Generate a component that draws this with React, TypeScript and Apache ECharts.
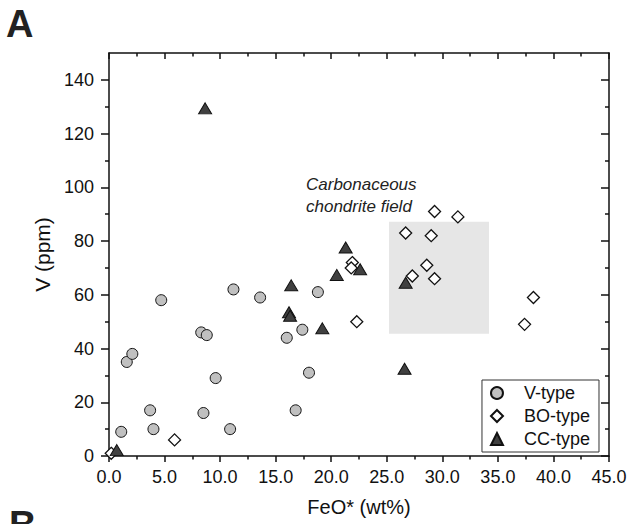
import React, { useEffect, useRef } from "react";
import * as echarts from "echarts";

const FONT = "'Liberation Sans', Arial, sans-serif";

// V-type (FeO* wt%, V ppm)
const vTypeFeO = [1.1, 1.6, 2.1, 4.7, 3.7, 4.0, 8.3, 8.8, 8.5, 9.6, 11.2, 10.9, 13.6, 16.0, 17.4, 16.8, 18.0, 18.8];
const vTypeV = [9, 35, 38, 58, 17, 10, 46, 45, 16, 29, 62, 10, 59, 44, 47, 17, 31, 61];

// BO-type
const boTypeFeO = [0.2, 5.9, 22.3, 21.9, 21.8, 29.3, 31.4, 26.7, 29.0, 28.6, 27.3, 29.3, 38.2, 37.4];
const boTypeV = [1, 6, 50, 72, 70, 91, 89, 83, 82, 71, 67, 66, 59, 49];

// CC-type
const ccTypeFeO = [0.7, 8.65, 21.3, 22.6, 20.5, 16.4, 16.2, 16.3, 19.2, 26.7, 26.6];
const ccTypeV = [2.2, 129.4, 77.6, 69.5, 67.4, 63.5, 53.5, 52.2, 47.5, 64.5, 32.5];

// Carbonaceous chondrite field box
const fieldFeO = [25.2, 34.2];
const fieldV = [45.5, 87.2];

const xTicks = [0, 5, 10, 15, 20, 25, 30, 35, 40, 45];
const yMajorTicks = [0, 20, 40, 60, 80, 100, 120, 140];
const yMinorTicks = [10, 30, 50, 70, 90, 110, 130];

const legendNames = ["V-type", "BO-type", "CC-type"];

const zip = (xs: number[], ys: number[]) => xs.map((x, i) => [x, ys[i]]);

export default function App() {
  const ref = useRef<HTMLDivElement>(null);
  useEffect(() => {
    if (!ref.current) return;
    const chart = echarts.init(ref.current, undefined, { renderer: "svg" });
    const lineStyle = { color: "#111", width: 1.5 };
    const baseX = {
      type: "value" as const,
      min: xTicks[0],
      max: xTicks[xTicks.length - 1],
      interval: 5,
      splitLine: { show: false },
      axisLine: { show: true, onZero: false, lineStyle },
    };
    const baseY = {
      type: "value" as const,
      min: 0,
      max: 150,
      interval: 10,
      splitLine: { show: false },
    };
    chart.setOption({
      animation: false,
      textStyle: { fontFamily: FONT },
      grid: { left: 109, right: 22, top: 53, bottom: 68, containLabel: false },
      xAxis: [
        {
          ...baseX,
          position: "bottom",
          name: "FeO* (wt%)",
          nameLocation: "middle",
          nameGap: 41,
          nameTextStyle: { fontSize: 20, color: "#111", fontFamily: FONT },
          axisTick: { show: true, inside: false, length: 6, lineStyle },
          minorTick: { show: true, splitNumber: 2, length: 3.5, lineStyle },
          axisLabel: {
            show: true,
            margin: 12,
            fontSize: 18,
            color: "#111",
            fontFamily: FONT,
            formatter: (v: number) => v.toFixed(1),
          },
        },
        {
          ...baseX,
          position: "top",
          axisTick: { show: true, inside: true, length: 6, lineStyle },
          minorTick: { show: true, splitNumber: 2, length: 3.5, lineStyle },
          axisLabel: { show: false },
        },
      ],
      yAxis: [
        {
          ...baseY,
          position: "left",
          name: "V (ppm)",
          nameLocation: "middle",
          nameGap: 52,
          nameTextStyle: { fontSize: 21, color: "#111", fontFamily: FONT },
          axisLine: { show: true, lineStyle },
          axisTick: { show: true, inside: false, length: 8, lineStyle, customValues: yMajorTicks },
          axisLabel: {
            show: true,
            margin: 15,
            fontSize: 18,
            color: "#111",
            fontFamily: FONT,
            customValues: yMajorTicks,
          },
        },
        {
          ...baseY,
          position: "left",
          axisLine: { show: false },
          axisTick: { show: true, inside: false, length: 4, lineStyle, customValues: yMinorTicks },
          axisLabel: { show: false },
        },
        {
          ...baseY,
          position: "right",
          axisLine: { show: true, lineStyle },
          axisTick: { show: true, inside: true, length: 8, lineStyle, customValues: yMajorTicks },
          axisLabel: { show: false },
        },
        {
          ...baseY,
          position: "right",
          axisLine: { show: false },
          axisTick: { show: true, inside: true, length: 4, lineStyle, customValues: yMinorTicks },
          axisLabel: { show: false },
        },
      ],
      legend: {
        data: legendNames,
        orient: "vertical",
        right: 32,
        bottom: 72,
        itemWidth: 12,
        itemHeight: 12,
        itemGap: 5,
        padding: [4, 9, 4, 8],
        borderColor: "#333",
        borderWidth: 1,
        backgroundColor: "#fff",
        textStyle: { fontSize: 18, color: "#111", fontFamily: FONT, lineHeight: 18, padding: [0, 0, 0, 16] },
      },
      series: [
        {
          name: legendNames[0],
          type: "scatter",
          symbol: "circle",
          symbolSize: 11,
          itemStyle: { color: "#c0c0c0", borderColor: "#111", borderWidth: 1, opacity: 1 },
          data: zip(vTypeFeO, vTypeV),
          markArea: {
            silent: true,
            itemStyle: { color: "#e6e6e6" },
            data: [[{ coord: [fieldFeO[0], fieldV[0]] }, { coord: [fieldFeO[1], fieldV[1]] }]],
          },
          z: 3,
        },
        {
          name: legendNames[1],
          type: "scatter",
          symbol: "diamond",
          symbolSize: [12, 12],
          itemStyle: { color: "#fff", borderColor: "#111", borderWidth: 1.3, opacity: 1 },
          data: zip(boTypeFeO, boTypeV),
          z: 4,
        },
        {
          name: legendNames[2],
          type: "scatter",
          symbol: "triangle",
          symbolSize: [13, 11],
          itemStyle: { color: "#404040", borderColor: "#111", borderWidth: 1, opacity: 1 },
          data: zip(ccTypeFeO, ccTypeV),
          z: 5,
        },
      ],
      graphic: [
        {
          type: "text",
          left: 6,
          top: 5,
          style: { text: "A", font: `bold 38px ${FONT}`, fill: "#222" },
        },
        {
          type: "text",
          left: 9,
          top: 506,
          style: { text: "B", font: `bold 38px ${FONT}`, fill: "#222" },
        },
        {
          type: "text",
          left: 306,
          top: 173,
          style: {
            text: "Carbonaceous\nchondrite field",
            font: `italic 17px ${FONT}`,
            lineHeight: 22,
            fill: "#222",
          },
        },
      ],
    });
    return () => chart.dispose();
  }, []);
  return <div ref={ref} style={{ width: 631, height: 524, position: "absolute", left: 0, top: 0 }} />;
}
